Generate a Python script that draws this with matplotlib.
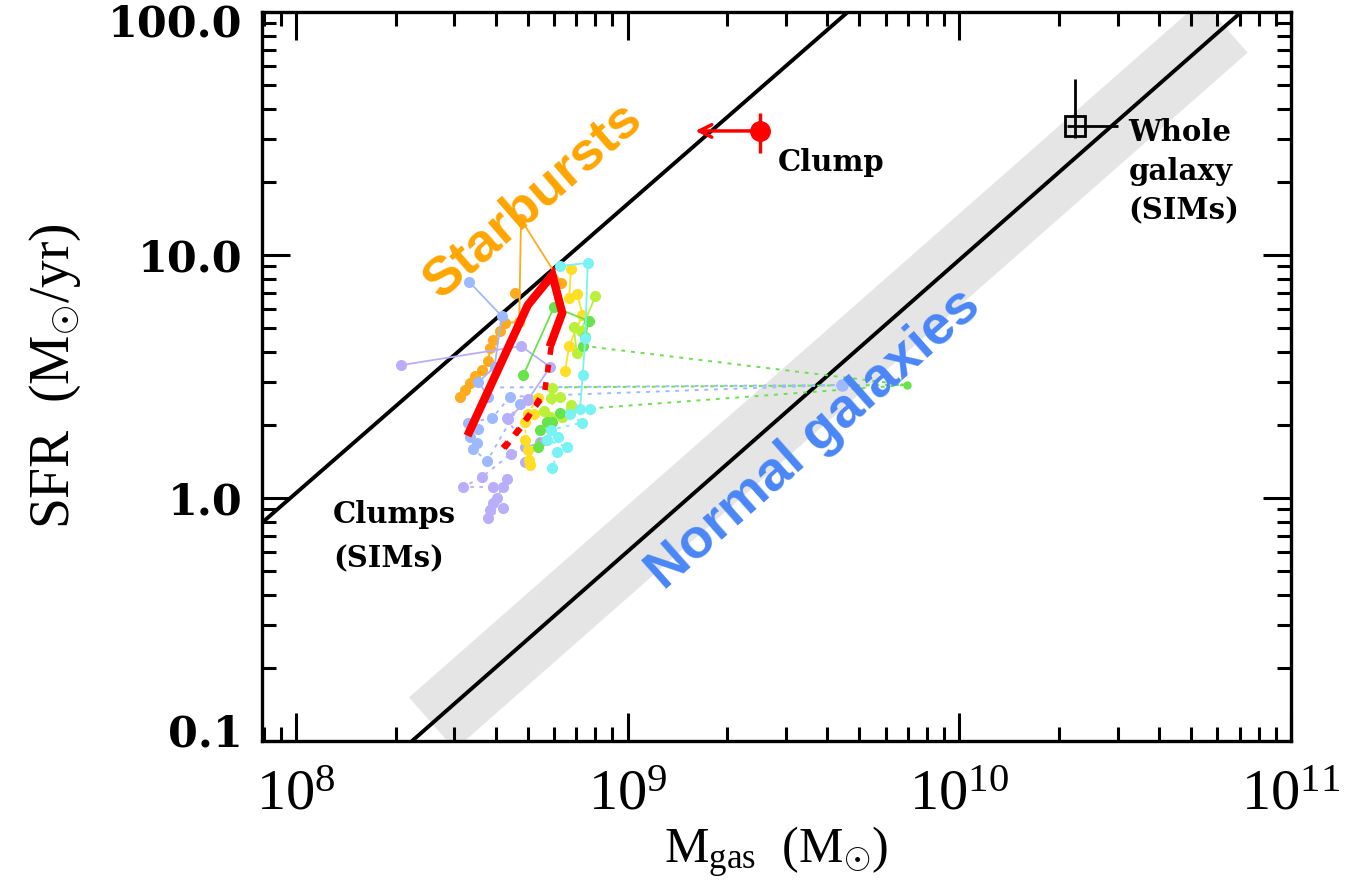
import matplotlib
matplotlib.use("Agg")
import matplotlib.pyplot as plt
import matplotlib.transforms as mtransforms
import numpy as np
from matplotlib.ticker import FixedLocator, FixedFormatter, LogLocator, NullFormatter

# --- data (gas mass in units of 1e8 Msun, SFR in Msun/yr) ---
orange_m = [3.13, 3.24, 3.35, 3.47, 3.64, 3.80, 3.85, 3.94, 4.13, 4.26, 4.71, 4.77, 6.30]
orange_sfr = [2.61, 2.78, 2.97, 3.18, 3.37, 3.66, 4.14, 4.47, 4.86, 5.25, 5.30, 14.0, 7.68]
orange_dot_m = [4.56]
orange_dot_sfr = [6.98]

ltblue_m = [3.33, 4.17, 3.97, 3.55, 3.80]
ltblue_sfr = [7.75, 5.61, 3.46, 3.00, 2.61]
ltblue_dot_m = [4.42, 3.90, 3.31, 3.55, 3.35, 3.52, 3.42, 3.77, 4.74]
ltblue_dot_sfr = [2.61, 2.13, 2.04, 1.92, 1.78, 1.69, 1.59, 1.42, 2.44]

lav_m = [2.07, 4.77, 5.84, 5.02, 4.35]
lav_sfr = [3.52, 4.22, 3.46, 2.55, 2.11]
lav_dot_m = [4.99, 4.32, 4.92, 4.92, 5.45, 4.45, 3.64, 3.19, 3.92, 4.20, 4.32,
             4.03, 3.92, 3.85, 3.80, 4.20]
lav_dot_sfr = [2.53, 2.13, 1.62, 1.41, 1.70, 1.52, 1.22, 1.11, 1.11, 1.11, 1.20,
               1.00, 0.95, 0.89, 0.83, 0.91]

yel_m = [6.75, 6.66, 7.06, 7.30, 6.66, 6.48]
yel_sfr = [8.75, 6.65, 6.92, 5.67, 4.23, 3.33]
yel_dot_m = [5.38, 4.99, 5.21, 4.92, 4.92, 5.02, 5.05, 5.08]
yel_dot_sfr = [2.59, 2.22, 2.22, 2.06, 1.73, 1.58, 1.43, 1.37]

ygr_m = [8.00, 7.23, 6.88, 7.02]
ygr_sfr = [6.78, 4.87, 5.06, 3.96]
ygr_dot_m = [5.93, 5.88, 6.26, 5.60, 5.84, 5.73, 6.35, 6.75, 6.75]
ygr_dot_sfr = [2.84, 2.59, 2.61, 2.27, 2.16, 2.06, 2.16, 2.41, 2.30]

grn_m = [4.85, 6.00, 7.63, 7.45, 7.32]
grn_sfr = [3.21, 6.11, 5.35, 4.61, 4.23]
grn_dot_m = [6.26, 5.93, 5.70, 5.45, 5.35]
grn_dot_sfr = [2.24, 2.06, 2.06, 1.91, 1.62]

cyan_m = [6.26, 7.58, 7.45, 7.32, 7.19, 7.71]
cyan_sfr = [9.02, 9.27, 4.55, 3.21, 2.32, 2.32]
cyan_dot_m = [6.71, 7.27, 5.88, 6.17, 5.73, 6.58, 6.13, 5.93]
cyan_dot_sfr = [2.22, 2.04, 1.91, 1.78, 1.73, 1.62, 1.54, 1.33]

# far outliers reached by dotted links
far_blue = (44.3, 2.92)
far_green = (69.5, 2.92)
blue_link_m = [4.13, 4.42]
blue_link_sfr = [2.85, 2.61]
green_link_m = [7.32, 7.19, 5.63]
green_link_sfr = [4.23, 2.32, 2.85]

# mean track (red)
red_m = [3.33, 5.00, 5.93, 6.35, 5.88]
red_sfr = [1.87, 6.22, 8.28, 5.77, 4.35]
red_dash1_m = [5.88, 5.63, 4.85, 4.07]
red_dash1_sfr = [4.18, 2.78, 2.00, 1.49]
red_dash2_m = [5.45, 4.50, 4.20]
red_dash2_sfr = [2.53, 1.78, 1.61]

# observed clump and whole galaxy
clump_m, clump_sfr, clump_err = 2.51e9, 32.4, 6.0
clump_limit_m = 1.57e9
gal_m, gal_sfr = 2.23e10, 34.0

# relations: log SFR = b + slope * (log M - 9)
slope = 1.2
b_starburst = 1.21
b_normal = -0.22
band_logm = [8.41, 10.80]

e8 = 1e8

plt.rcParams["font.family"] = "DejaVu Serif"
plt.rcParams["mathtext.fontset"] = "custom"
plt.rcParams["mathtext.rm"] = "Liberation Serif"
plt.rcParams["mathtext.it"] = "Liberation Serif"

fig = plt.figure(figsize=(13.5, 8.88), dpi=100)
ax = fig.add_axes([262 / 1350, 1 - 741 / 888, 1029 / 1350, 729 / 888])
ax.set_xscale("log")
ax.set_yscale("log")
ax.set_xlim(7.9e7, 1e11)
ax.set_ylim(0.1, 100)

# grey band and the two relations
lm = np.array(band_logm)
ax.plot(10 ** lm, 10 ** (b_normal + slope * (lm - 9)), color="#e5e5e5",
        lw=50, solid_capstyle="butt", zorder=1)
lm = np.array([7.5, 11.5])
ax.plot(10 ** lm, 10 ** (b_normal + slope * (lm - 9)), color="black", lw=2.8, zorder=2)
ax.plot(10 ** lm, 10 ** (b_starburst + (slope - 0.01) * (lm - 9)), color="black", lw=2.8, zorder=2)

# simulated clumps
dots = (0, (2, 3))
tracks = [
    ("#ffab1f", orange_m, orange_sfr, orange_dot_m, orange_dot_sfr),
    ("#9db9ff", ltblue_m, ltblue_sfr, ltblue_dot_m, ltblue_dot_sfr),
    ("#b9aefc", lav_m, lav_sfr, lav_dot_m, lav_dot_sfr),
    ("#ffdf24", yel_m, yel_sfr, yel_dot_m, yel_dot_sfr),
    ("#baf03a", ygr_m, ygr_sfr, ygr_dot_m, ygr_dot_sfr),
    ("#66e44a", grn_m, grn_sfr, grn_dot_m, grn_dot_sfr),
    ("#77f3f3", cyan_m, cyan_sfr, cyan_dot_m, cyan_dot_sfr),
]
for c, m, s, dm, ds in tracks:
    ax.plot(np.array(m) * e8, s, "-", color=c, lw=1.3, marker="o", ms=8, mec="none", zorder=4)
    ax.plot(np.array(dm) * e8, ds, color=c, lw=1.3, ls=dots, marker="o",
            ms=8, mec="none", zorder=4)

for m, s in zip(blue_link_m, blue_link_sfr):
    ax.plot([m * e8, far_blue[0] * e8], [s, far_blue[1]], color="#9db9ff", lw=1.4,
            ls=dots, zorder=3)
for m, s in zip(green_link_m, green_link_sfr):
    ax.plot([m * e8, far_green[0] * e8], [s, far_green[1]], color="#66e44a", lw=1.4,
            ls=dots, zorder=3)
ax.plot(far_blue[0] * e8, far_blue[1], "o", color="#9db9ff", ms=9, mec="none", zorder=4)
ax.plot(far_green[0] * e8, far_green[1], "o", color="#66e44a", ms=6, mec="none", zorder=4)

ax.plot(np.array(red_m) * e8, red_sfr, color="red", lw=6, solid_joinstyle="miter", zorder=6)
ax.plot(np.array(red_dash1_m) * e8, red_dash1_sfr, color="red", lw=4, ls=(0, (1.4, 1.8)), zorder=6)
ax.plot(np.array(red_dash2_m) * e8, red_dash2_sfr, color="red", lw=4, ls=(0, (1.4, 1.8)), zorder=6)

# observed clump
ax.errorbar(clump_m, clump_sfr, yerr=clump_err, fmt="o", color="red", ms=14,
            elinewidth=2.5, capsize=0, zorder=7)
ax.annotate("", xy=(clump_limit_m, clump_sfr), xytext=(clump_m, clump_sfr),
            arrowprops=dict(arrowstyle="->,head_length=0.9,head_width=0.45",
                            color="red", lw=2.5), zorder=7)

# whole galaxy
ax.errorbar(gal_m, gal_sfr, yerr=[[3.7], [19.0]], xerr=[[1.2e9], [7.8e9]], fmt="s",
            mfc="none", mec="black", ms=14, mew=2, ecolor="black", elinewidth=2,
            capsize=0, zorder=7)

# annotations
ax.text(0.263, 0.742, "Starbursts", transform=ax.transAxes, rotation=41,
        ha="center", va="center", color="#ffa500", fontsize=39,
        fontweight="bold", family="Liberation Sans", zorder=8)
ax.text(0.537, 0.413, "Normal galaxies", transform=ax.transAxes, rotation=41.5,
        ha="center", va="center", color="#4a86f7", fontsize=40,
        fontweight="bold", family="Liberation Sans", zorder=8)
ax.text(0.501, 0.794, "Clump", transform=ax.transAxes, ha="left", va="center",
        fontsize=21, fontweight="bold")
ax.text(0.842, 0.855, "Whole\ngalaxy\n(SIMs)", transform=ax.transAxes, ha="left",
        va="top", fontsize=21, fontweight="bold", linespacing=1.45)
ax.text(0.069, 0.280, "Clumps\n(SIMs)", transform=ax.transAxes, ha="left",
        va="center", fontsize=21, fontweight="bold", linespacing=1.65)

# axes styling
for sp in ax.spines.values():
    sp.set_linewidth(2.4)
ax.xaxis.set_major_locator(FixedLocator([1e8, 1e9, 1e10, 1e11]))
ax.xaxis.set_major_formatter(FixedFormatter([r"$10^{8}$", r"$10^{9}$", r"$10^{10}$", r"$10^{11}$"]))
ax.xaxis.set_minor_locator(LogLocator(base=10, subs=np.arange(2, 10)))
ax.xaxis.set_minor_formatter(NullFormatter())
ax.yaxis.set_major_locator(FixedLocator([0.1, 1, 10, 100]))
ax.yaxis.set_major_formatter(FixedFormatter(["0.1", "1.0", "10.0", "100.0"]))
ax.yaxis.set_minor_locator(LogLocator(base=10, subs=np.arange(2, 10)))
ax.yaxis.set_minor_formatter(NullFormatter())
ax.tick_params(which="both", direction="in", top=True, right=True, width=2.2)
ax.tick_params(which="major", length=20)
ax.tick_params(which="minor", length=10)
ax.tick_params(axis="x", which="major", pad=18, labelsize=42)
ax.tick_params(axis="y", which="major", pad=14, labelsize=31)

ax.set_xlabel(r"M$_{\mathrm{gas}}$  (M$_{\odot}$)", fontsize=36, family="Liberation Serif", labelpad=2)
ax.set_ylabel(r"SFR  (M$_{\odot}$/yr)", fontsize=40, family="Liberation Serif", labelpad=18)

fig.canvas.draw()
ylabels = ax.get_yticklabels()
for t in ylabels:
    t.set_fontweight("bold")
ylabels[0].set_transform(ylabels[0].get_transform() +
                         mtransforms.ScaledTranslation(0, 8 / 72, fig.dpi_scale_trans))
ylabels[-1].set_transform(ylabels[-1].get_transform() +
                          mtransforms.ScaledTranslation(0, -6 / 72, fig.dpi_scale_trans))

fig.savefig("out.png", dpi=100)
